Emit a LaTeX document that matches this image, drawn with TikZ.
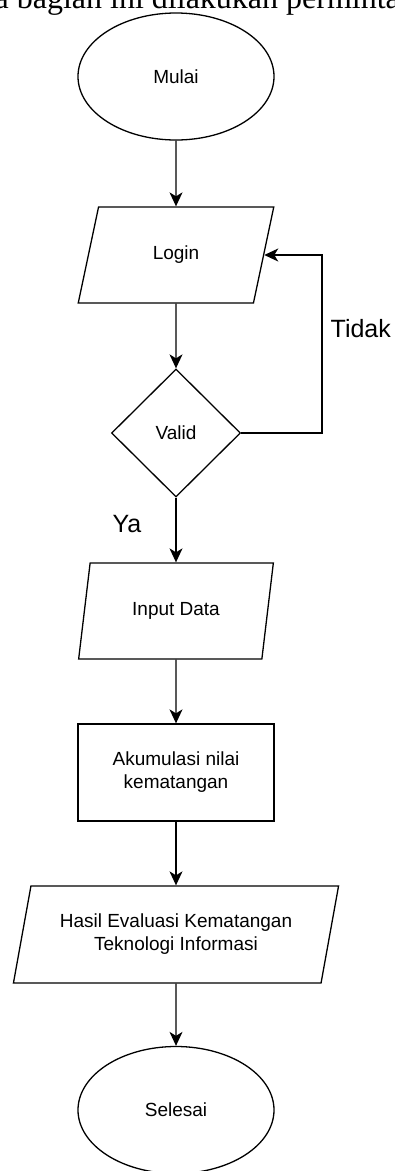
\documentclass[tikz,border=0pt]{standalone}
\usepackage{fontspec}
\setmainfont{Liberation Sans}
\newfontfamily\bodyserif{Liberation Serif}
\usetikzlibrary{shapes.geometric,arrows.meta}

\tikzset{
	terminal/.style={draw, ellipse, minimum width=196pt, minimum height=127pt, inner sep=0pt},
	io/.style={draw, trapezium, trapezium left angle=71, trapezium right angle=109,
		trapezium stretches, minimum height=96pt, inner sep=0pt, align=center},
	process/.style={draw, rectangle, minimum width=196pt, minimum height=97pt, inner sep=0pt, align=center},
	decision/.style={draw, diamond, minimum width=129pt, minimum height=128pt, inner sep=0pt},
	flow/.style={-{Stealth[length=14pt, width=13pt, inset=4pt]}},
	branch/.style={font=\fontsize{25}{30}\selectfont, inner sep=0pt}
}

\begin{document}
\begin{tikzpicture}[x=1pt, y=-1pt, line width=1.3pt, font=\fontsize{19}{23}\selectfont]
	\useasboundingbox (0,0) rectangle (395,1171);
	\clip (0,0) rectangle (395,1171);

	% potongan teks di atas gambar
	\node[anchor=base west, inner sep=0pt, font=\bodyserif\fontsize{32}{32}\selectfont] (intro) at (-6,8.5) {a bagian ini dilakukan permintaan};

	\node[terminal] (mulai) at (176,76.5) {Mulai};
	\node[io, minimum width=196pt] (login) at (176,255) {Login};
	\node[decision] (valid) at (176,433) {Valid};
	\node[io, minimum width=196pt] (input) at (176,611) {Input Data};
	\node[process] (akumulasi) at (176,772.5) {Akumulasi nilai\\kematangan};
	\node[io, minimum width=326pt, minimum height=97pt] (hasil) at (176,934.5) {Hasil Evaluasi Kematangan\\Teknologi Informasi};
	\node[terminal] (selesai) at (176,1110) {Selesai};
	\coordinate (balik) at (322,433);

	\node[branch, anchor=base west] (tidak) at (330,337) {Tidak};
	\node[branch, anchor=base west] (ya) at (112,532) {Ya};

	\draw[flow] (mulai) -- (login);
	\draw[flow] (login) -- (valid);
	\draw[flow] (valid.east) -- (balik) |- (login.east);
	\draw[flow] (valid) -- (input);
	\draw[flow] (input) -- (akumulasi);
	\draw[flow] (akumulasi) -- (hasil);
	\draw[flow] (hasil) -- (selesai);
\end{tikzpicture}
\end{document}
